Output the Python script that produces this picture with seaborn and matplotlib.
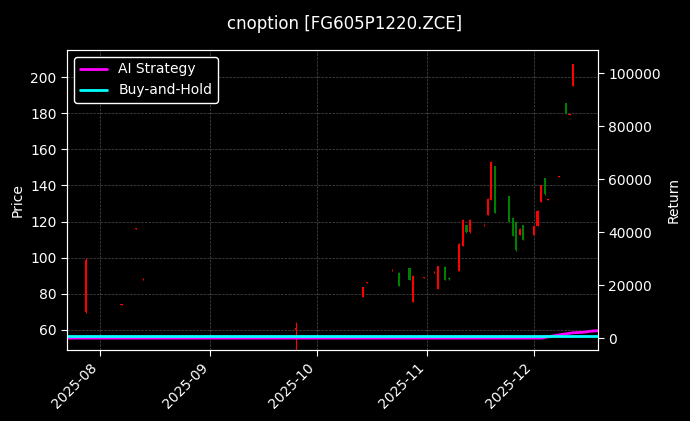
import matplotlib
matplotlib.use("Agg")
import matplotlib.pyplot as plt
import matplotlib.dates as mdates
import seaborn as sns
import pandas as pd
import numpy as np

sns.set_style("dark")
plt.rcParams['font.family'] = ['DejaVu Sans']

dates = ["2025-07-28","2025-08-07","2025-08-11","2025-08-13","2025-09-25",
         "2025-10-14","2025-10-15","2025-10-22","2025-10-24","2025-10-27","2025-10-28","2025-10-31",
         "2025-11-03","2025-11-04","2025-11-06","2025-11-07","2025-11-10","2025-11-11","2025-11-12","2025-11-13",
         "2025-11-17","2025-11-18","2025-11-19","2025-11-20","2025-11-24","2025-11-25","2025-11-26","2025-11-27","2025-11-28",
         "2025-12-01","2025-12-02","2025-12-03","2025-12-04","2025-12-05","2025-12-08","2025-12-10","2025-12-11","2025-12-12"]
opens  = [70,74,116,88,60, 78.3,86,93,91.5,94.3,75.5,89, 92,82.7,95,89,92.6,106.5,118,114, 118,123.6,132,150.7,134,122,120,112.6,118, 112.6,117.5,131,144,132,144.7,185.6,179,195]
closes = [99,74.3,116.3,88.3,61, 83.8,86.4,93.3,84.4,87.7,90,89.3, 92.3,95.4,87.7,88,107.6,121,114,121, 118.3,132.5,153,125,120,112,104,116,110, 117.5,126,140,135,132.3,145,180,179.3,207]
highs  = [100,74.5,116.5,88.5,64.4, 84,86.6,93.5,92,94.5,90.5,89.5, 92.5,95.6,95.2,89.3,108,121.5,118.3,121.3, 118.5,133,153.5,151,134.3,122.3,120.3,116.3,118.3, 117.8,126.3,140.3,144.3,132.5,145.2,185.8,179.5,207.5]
lows   = [69.4,73.8,115.8,87.8,49, 78,85.8,92.8,84.2,87.5,75.2,88.8, 91.8,82.5,87.5,87.8,92.4,106.3,113.8,113.8, 117.8,123.4,131.8,124.8,119.8,111.8,103.8,112.4,109.8, 112.4,117.3,130.8,134.8,131.8,144.5,179.8,178.8,194.8]

ret_dates = ["2025-07-22"] + dates + ["2025-12-15","2025-12-16","2025-12-17","2025-12-18","2025-12-19"]
ai_ret = [0]*33 + [200,500,1200,1600,1800,2000,2200,2400,2600,2700,2800]
bh_ret = [700]*len(ret_dates)

df = pd.DataFrame({"date": pd.to_datetime(dates), "open": opens, "close": closes, "high": highs, "low": lows})
rdf = pd.DataFrame({"date": pd.to_datetime(ret_dates), "ai": ai_ret, "bh": bh_ret})

fig = plt.figure(figsize=(6.9, 4.21), dpi=100, facecolor="black")
ax = fig.add_axes([67/690, 71/421, 531/690, 300/421], facecolor="black")
ax2 = ax.twinx()

for _, r in df.iterrows():
    c = "red" if r.close >= r.open else "green"
    ax.vlines(r.date, r.low, r.high, color=c, linewidth=0.8)
    ax.bar(r.date, max(abs(r.close - r.open), 0.3), bottom=min(r.open, r.close), width=0.6,
           color=c, edgecolor="none", linewidth=0)

sns.lineplot(data=rdf, x="date", y="ai", ax=ax2, color="magenta", linewidth=2, label="AI Strategy")
sns.lineplot(data=rdf, x="date", y="bh", ax=ax2, color="cyan", linewidth=2, label="Buy-and-Hold")
ax2.get_legend().remove()

ax.set_xlim(pd.Timestamp("2025-07-22 16:00"), pd.Timestamp("2025-12-19"))
ax.set_ylim(48.9, 215)
ax2.set_ylim(-4500, 108700)
ax.xaxis.set_major_locator(mdates.MonthLocator())
ax.xaxis.set_major_formatter(mdates.DateFormatter("%Y-%m"))
for lbl in ax.get_xticklabels():
    lbl.set_rotation(45); lbl.set_ha("right")

for a in (ax, ax2):
    a.tick_params(colors="white", labelsize=10, length=4, direction="out")
    for s in a.spines.values():
        s.set_color("white")
ax.tick_params(axis="both", which="both", bottom=True, left=True)
ax2.tick_params(axis="y", right=True)
ax.grid(True, color="gray", linestyle="--", linewidth=0.5, alpha=0.6)
ax.set_ylabel("Price", color="white")
ax2.set_ylabel("Return", color="white")
ax.set_xlabel(""); ax2.set_xlabel("")
ax.set_axisbelow(True)

leg = ax.legend(*ax2.get_legend_handles_labels(), loc="upper left", facecolor="black", edgecolor="white", labelcolor="white", framealpha=1)
fig.suptitle("cnoption [FG605P1220.ZCE]", color="white", fontsize=12, y=0.965)
fig.savefig("out.png", dpi=100, facecolor="black")
